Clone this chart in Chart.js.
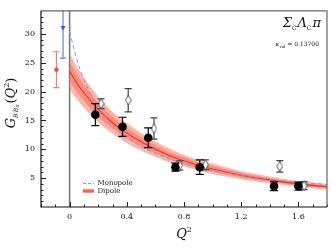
<!DOCTYPE html>
<html>
<head>
<meta charset="utf-8">
<script src="https://cdn.jsdelivr.net/npm/chart.js@4.4.1/dist/chart.umd.min.js"></script>
<style>
  html, body { margin: 0; padding: 0; background: #fff; }
</style>
</head>
<body>
<canvas id="chart" width="332" height="249"></canvas>
<script>
// fit curves, sampled in Q^2
const qGrid        = [0, 0.05, 0.1, 0.15, 0.2, 0.3, 0.4, 0.5, 0.6, 0.7, 0.8, 0.9, 1.0, 1.2, 1.4, 1.6, 1.8];
const dipole       = [23.5, 21.5, 19.8, 18.3, 16.9, 14.6, 12.8, 11.3, 10.0, 8.9, 8.0, 7.2, 6.6, 5.5, 4.7, 4.0, 3.5];
const dipoleOutHi  = [26.6, 24.3, 22.4, 20.7, 19.1, 16.5, 14.5, 12.8, 11.3, 10.1, 9.0, 8.1, 7.5, 6.2, 5.3, 4.5, 4.0];
const dipoleOutLo  = [20.4, 18.7, 17.2, 15.9, 14.7, 12.7, 11.1, 9.8, 8.7, 7.7, 7.0, 6.3, 5.7, 4.8, 4.1, 3.5, 3.0];
const dipoleInHi   = [25.1, 23.0, 21.2, 19.6, 18.1, 15.6, 13.7, 12.1, 10.7, 9.5, 8.6, 7.7, 7.1, 5.9, 5.0, 4.3, 3.7];
const dipoleInLo   = [21.9, 20.0, 18.4, 17.0, 15.7, 13.6, 11.9, 10.5, 9.3, 8.3, 7.4, 6.7, 6.1, 5.1, 4.4, 3.7, 3.3];
const monopole     = [30.4, 25.6, 22.1, 19.4, 17.3, 14.2, 12.1, 10.5, 9.3, 8.3, 7.5, 6.9, 6.4, 5.5, 4.8, 4.3, 3.9];

// lattice points (filled)
const latQ   = [0.18, 0.37, 0.55, 0.74, 0.91, 1.43, 1.60];
const latG   = [16.0, 13.9, 12.0, 6.9, 6.9, 3.6, 3.6];
const latErr = [1.9, 1.65, 1.7, 0.7, 1.25, 0.75, 0.7];

// lattice points (open)
const altQ   = [0.22, 0.41, 0.59, 0.77, 0.95, 1.47, 1.64];
const altG   = [17.9, 18.5, 13.6, 7.2, 7.3, 7.05, 3.7];
const altErr = [0.85, 2.0, 1.85, 0.8, 0.85, 1.0, 0.7];

// points at negative Q^2
const redQ = [-0.092], redG = [23.8], redErrLo = [3.1], redErrHi = [3.1];
const blueQ = [-0.046], blueG = [31.1], blueErrLo = [5.3], blueErrHi = [8.0];

const xTicks = [0, 0.4, 0.8, 1.2, 1.6];
const yTicks = [5, 10, 15, 20, 25, 30];

const serif = '"DejaVu Serif", "Liberation Serif", serif';

function pts(xs, ys) {
    return xs.map(function(v, i) { return { x: v, y: ys[i] }; });
}

// narrow open diamond marker
const diamond = document.createElement('canvas');
diamond.width = 7;
diamond.height = 11;
(function() {
    const c = diamond.getContext('2d');
    c.beginPath();
    c.moveTo(3.5, 0.5);
    c.lineTo(6.3, 5.5);
    c.lineTo(3.5, 10.5);
    c.lineTo(0.7, 5.5);
    c.closePath();
    c.fillStyle = '#fff';
    c.fill();
    c.strokeStyle = '#444';
    c.lineWidth = 0.9;
    c.stroke();
})();

function drawPieces(ctx, pieces, x, y, align) {
    let total = 0;
    pieces.forEach(function(p) {
        ctx.font = p.f;
        p.w = ctx.measureText(p.t).width;
        total += p.w + (p.gap || 0);
    });
    let cx = align === 'right' ? x - total : (align === 'center' ? x - total / 2 : x);
    pieces.forEach(function(p) {
        ctx.font = p.f;
        ctx.fillText(p.t, cx, y + (p.dy || 0));
        cx += p.w + (p.gap || 0);
    });
}

const errorBarPlugin = {
    id: 'errorBars',
    beforeDatasetDraw(chart, args) {
        const ds = chart.data.datasets[args.index];
        if (!ds.errLo) return;
        const { ctx, chartArea: a, scales: { x, y } } = chart;
        ctx.save();
        ctx.beginPath();
        ctx.rect(a.left, a.top, a.right - a.left, a.bottom - a.top);
        ctx.clip();
        ctx.strokeStyle = ds.errColor;
        ctx.lineWidth = 1.2;
        const cw = ds.capWidth / 2;
        ds.data.forEach(function(d, i) {
            const px = x.getPixelForValue(d.x);
            const top = y.getPixelForValue(d.y + ds.errHi[i]);
            const bot = y.getPixelForValue(d.y - ds.errLo[i]);
            ctx.beginPath();
            ctx.moveTo(px, top); ctx.lineTo(px, bot);
            ctx.moveTo(px - cw, top); ctx.lineTo(px + cw, top);
            ctx.moveTo(px - cw, bot); ctx.lineTo(px + cw, bot);
            ctx.stroke();
        });
        ctx.restore();
    }
};

const decorPlugin = {
    id: 'decor',
    beforeDatasetsDraw(chart) {
        const { ctx, chartArea: a, scales: { x } } = chart;
        const x0 = x.getPixelForValue(0);
        ctx.save();
        ctx.strokeStyle = '#777';
        ctx.lineWidth = 1.6;
        ctx.beginPath();
        ctx.moveTo(x0, a.top);
        ctx.lineTo(x0, a.bottom);
        ctx.stroke();
        ctx.restore();
    },
    afterDraw(chart) {
        const { ctx, chartArea: a, scales: { x, y } } = chart;
        ctx.save();

        // ticks, pointing inward
        ctx.strokeStyle = '#222';
        ctx.lineWidth = 1;
        ctx.beginPath();
        for (let k = -2; k <= 18; k++) {
            const px = Math.round(x.getPixelForValue(k / 10)) + 0.5;
            const len = (k % 4 === 0) ? 5 : 2.5;
            ctx.moveTo(px, a.bottom);
            ctx.lineTo(px, a.bottom - len);
        }
        for (let k = 1; k <= 33; k++) {
            const py = Math.round(y.getPixelForValue(k)) + 0.5;
            const len = (k % 5 === 0) ? 5 : 2.5;
            ctx.moveTo(a.left, py);
            ctx.lineTo(a.left + len, py);
        }
        ctx.stroke();

        // frame
        ctx.strokeStyle = '#666';
        ctx.lineWidth = 1.2;
        ctx.beginPath();
        ctx.moveTo(a.left, a.top);
        ctx.lineTo(a.right, a.top);
        ctx.lineTo(a.right, a.bottom);
        ctx.stroke();
        ctx.strokeStyle = '#111';
        ctx.beginPath();
        ctx.moveTo(a.left, a.top);
        ctx.lineTo(a.left, a.bottom);
        ctx.lineTo(a.right, a.bottom);
        ctx.stroke();

        ctx.fillStyle = '#111';
        ctx.textBaseline = 'alphabetic';

        // x title
        drawPieces(ctx, [
            { t: 'Q', f: 'italic 13px ' + serif },
            { t: '2', f: '8px ' + serif, dy: -6 }
        ], 184, 238, 'center');

        // y title
        ctx.save();
        ctx.translate(15, 103);
        ctx.rotate(-Math.PI / 2);
        drawPieces(ctx, [
            { t: 'G', f: 'italic 13px ' + serif },
            { t: 'B\u2032B', f: 'italic 6px ' + serif, dy: 3 },
            { t: '\u03c0', f: 'italic 5px ' + serif, dy: 4, gap: 1 },
            { t: '(', f: '13px ' + serif },
            { t: 'Q', f: 'italic 13px ' + serif },
            { t: '2', f: '8px ' + serif, dy: -6 },
            { t: ')', f: '13px ' + serif }
        ], 0, 0, 'center');
        ctx.restore();

        // channel label
        drawPieces(ctx, [
            { t: '\u03a3', f: 'italic 13px ' + serif },
            { t: 'C', f: '6px ' + serif, dy: 3, gap: 1 },
            { t: '\u039b', f: 'italic 13px ' + serif },
            { t: 'C', f: '6px ' + serif, dy: 3, gap: 1 },
            { t: '\u03c0', f: 'italic 13px ' + serif }
        ], 321, 27, 'right');

        drawPieces(ctx, [
            { t: '\u03ba', f: 'italic 6px ' + serif },
            { t: 'val', f: '4px ' + serif, dy: 1.5 },
            { t: ' = 0.13700', f: '6px ' + serif }
        ], 319, 46, 'right');

        // legend
        ctx.setLineDash([3, 2]);
        ctx.strokeStyle = '#7f95e8';
        ctx.lineWidth = 1;
        ctx.beginPath();
        ctx.moveTo(83, 183.5); ctx.lineTo(94, 183.5);
        ctx.stroke();
        ctx.setLineDash([]);
        ctx.strokeStyle = 'rgba(246,120,100,0.8)';
        ctx.lineWidth = 4;
        ctx.beginPath();
        ctx.moveTo(83, 191); ctx.lineTo(94, 191);
        ctx.stroke();
        ctx.strokeStyle = '#ff2a1a';
        ctx.lineWidth = 1;
        ctx.beginPath();
        ctx.moveTo(83, 191); ctx.lineTo(94, 191);
        ctx.stroke();
        ctx.fillStyle = '#222';
        ctx.textBaseline = 'middle';
        ctx.font = '7px ' + serif;
        ctx.fillText('Monopole', 97.5, 183.5);
        ctx.fillText('Dipole', 97.5, 191);

        ctx.restore();
    }
};

const curve = { showLine: true, pointRadius: 0, cubicInterpolationMode: 'monotone' };

new Chart(document.getElementById('chart'), {
    type: 'line',
    data: {
        datasets: [
            Object.assign({ data: pts(altQ, altG), showLine: false, pointStyle: diamond,
                errLo: altErr, errHi: altErr, errColor: '#444', capWidth: 7, order: 1 }),
            Object.assign({ data: pts(latQ, latG), showLine: false, pointRadius: 4.3,
                pointBackgroundColor: '#000', pointBorderColor: '#000', pointBorderWidth: 0,
                errLo: latErr, errHi: latErr, errColor: '#000', capWidth: 8, order: 0 }),
            Object.assign({ data: pts(redQ, redG), showLine: false, pointRadius: 2.2,
                pointBackgroundColor: '#f0473a', pointBorderColor: '#f0473a', pointBorderWidth: 0,
                errLo: redErrLo, errHi: redErrHi, errColor: '#f5796c', capWidth: 6, order: 2 }),
            Object.assign({ data: pts(blueQ, blueG), showLine: false, pointRadius: 3,
                pointStyle: 'triangle', rotation: 180,
                pointBackgroundColor: '#2d5cf0', pointBorderColor: '#2d5cf0', pointBorderWidth: 0,
                errLo: blueErrLo, errHi: blueErrHi, errColor: '#5b80f2', capWidth: 6, order: 3 }),
            Object.assign({ data: pts(qGrid, monopole), borderColor: '#7f95e8', borderWidth: 1,
                borderDash: [4, 3], fill: false, order: 4 }, curve),
            Object.assign({ data: pts(qGrid, dipole), borderColor: '#ff2a1a', borderWidth: 1.1,
                fill: false, order: 5 }, curve),
            Object.assign({ data: pts(qGrid, dipoleInHi), borderWidth: 0,
                fill: '+1', backgroundColor: 'rgba(245,105,85,0.5)', order: 6 }, curve),
            Object.assign({ data: pts(qGrid, dipoleInLo), borderWidth: 0, fill: false, order: 7 }, curve),
            Object.assign({ data: pts(qGrid, dipoleOutHi), borderWidth: 0,
                fill: '+1', backgroundColor: 'rgba(249,140,122,0.65)', order: 8 }, curve),
            Object.assign({ data: pts(qGrid, dipoleOutLo), borderWidth: 0, fill: false, order: 9 }, curve)
        ]
    },
    options: {
        responsive: false,
        animation: false,
        layout: { padding: { top: 4, right: 5, left: 0, bottom: 0 } },
        plugins: {
            legend: { display: false },
            tooltip: { enabled: false }
        },
        scales: {
            x: {
                type: 'linear',
                min: -0.2,
                max: 1.8,
                afterFit: function(s) { s.height = 42; },
                afterBuildTicks: function(s) { s.ticks = xTicks.map(function(v) { return { value: v }; }); },
                grid: { display: false, drawTicks: false },
                border: { display: false },
                ticks: {
                    padding: 5,
                    color: '#111',
                    font: { family: serif, size: 8 },
                    maxRotation: 0,
                    callback: function(v) { return v === 0 ? '0' : v.toFixed(1); }
                }
            },
            y: {
                type: 'linear',
                min: 0,
                max: 34,
                afterFit: function(s) { s.width = 41; },
                afterBuildTicks: function(s) { s.ticks = yTicks.map(function(v) { return { value: v }; }); },
                grid: { display: false, drawTicks: false },
                border: { display: false },
                ticks: {
                    padding: 6,
                    color: '#111',
                    font: { family: serif, size: 8 }
                }
            }
        }
    },
    plugins: [errorBarPlugin, decorPlugin]
});
</script>
</body>
</html>
